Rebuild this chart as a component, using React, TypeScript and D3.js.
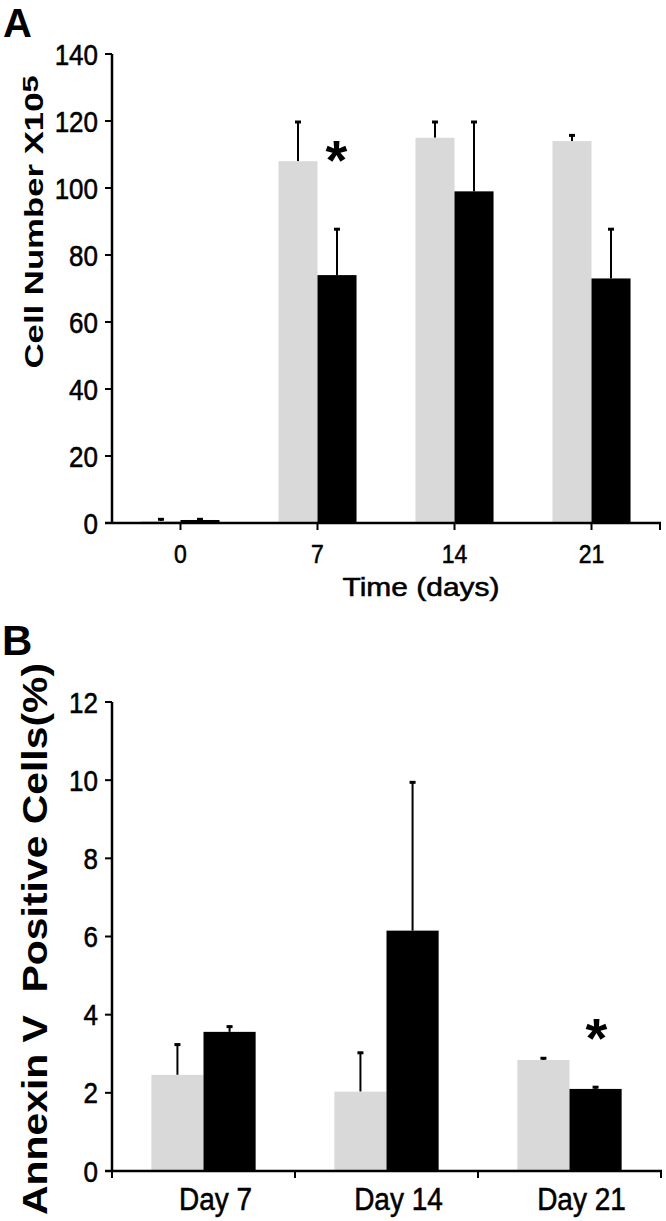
import React, { useEffect } from "react";
import * as d3 from "d3";

// ---------- Data ----------
const seriesNames = ["control", "treated"];
const seriesColors = ["#d9d9d9", "#000000"];

// Panel A: cell number (x10^5)
const daysA = ["0", "7", "14", "21"];
const cellMeanControl = [0.6, 108, 115, 114];
const cellErrControl = [1.4, 120, 120, 116];
const cellMeanTreated = [0.9, 74, 99, 73];
const cellErrTreated = [1.4, 88, 120, 88];
const ticksA = [0, 20, 40, 60, 80, 100, 120, 140];
const starA = "7";

// Panel B: Annexin V positive cells (%)
const daysB = ["Day 7", "Day 14", "Day 21"];
const annexMeanControl = [2.46, 2.03, 2.84];
const annexErrControl = [3.26, 3.05, 2.91];
const annexMeanTreated = [3.56, 6.15, 2.1];
const annexErrTreated = [3.72, 9.97, 2.17];
const ticksB = [0, 2, 4, 6, 8, 10, 12];
const starB = "Day 21";

const FONT = "'Liberation Sans', Arial, Helvetica, sans-serif";

type PanelProps = {
  cats: string[];
  means: number[][];
  errs: number[][];
  yDomain: [number, number];
  yRange: [number, number];
  xRange: [number, number];
};

function Bars({ cats, means, errs, yDomain, yRange, xRange }: PanelProps) {
  const x = d3.scaleBand<string>().domain(cats).range(xRange).paddingInner(0).paddingOuter(0);
  const x1 = d3.scaleBand<string>().domain(seriesNames).range([0, x.bandwidth()]).paddingInner(0).paddingOuter(0.755);
  const y = d3.scaleLinear().domain(yDomain).range(yRange);
  return (
    <g>
      {cats.map((c, i) =>
        seriesNames.map((s, j) => {
          const bx = (x(c) as number) + (x1(s) as number);
          const w = x1.bandwidth();
          const top = y(means[j][i]);
          const cx = bx + w / 2;
          return (
            <g key={c + s}>
              <line x1={cx} x2={cx} y1={top} y2={y(errs[j][i])} stroke="#000" strokeWidth={2} />
              <line x1={cx - 3} x2={cx + 3} y1={y(errs[j][i]) + 1} y2={y(errs[j][i]) + 1} stroke="#000" strokeWidth={3} />
              <rect x={bx} y={top} width={w} height={y(0) - top} fill={seriesColors[j]} />
            </g>
          );
        })
      )}
    </g>
  );
}

function Label({ x, y, size, anchor, sy, children, length }: any) {
  return (
    <text
      transform={`translate(${x},${y}) scale(1,${sy})`}
      textAnchor={anchor}
      fontSize={size}
      stroke="#000"
      strokeWidth={0.5}
      textLength={length}
      lengthAdjust={length ? "spacingAndGlyphs" : undefined}
    >
      {children}
    </text>
  );
}

export default function App() {
  useEffect(() => {
    document.body.style.margin = "0";
  }, []);

  const xA = d3.scaleBand<string>().domain(daysA).range([112, 660]);
  const yA = d3.scaleLinear().domain([0, 140]).range([523, 54]);
  const xB = d3.scaleBand<string>().domain(daysB).range([112, 661]);
  const yB = d3.scaleLinear().domain([0, 12]).range([1171, 702]);

  const pA: PanelProps = {
    cats: daysA,
    means: [cellMeanControl, cellMeanTreated],
    errs: [cellErrControl, cellErrTreated],
    yDomain: [0, 140],
    yRange: [523, 54],
    xRange: [112, 660],
  };
  const pB: PanelProps = {
    cats: daysB,
    means: [annexMeanControl, annexMeanTreated],
    errs: [annexErrControl, annexErrTreated],
    yDomain: [0, 12],
    yRange: [1171, 702],
    xRange: [112, 661],
  };

  const axisW = 2.5;

  const starAx = (xA(starA) as number) + xA.bandwidth() / 2 + 19;
  const starAy = yA(102.7);
  const starBx = (xB(starB) as number) + xB.bandwidth() / 2 + 27;
  const starBy = yB(2.92);

  return (
    <svg width={666} height={1221} style={{ display: "block", background: "#fff" }} fontFamily={FONT}>
      <rect x={0} y={0} width={666} height={1221} fill="#fff" />
      {/* ---------------- Panel A ---------------- */}
      <text x={3} y={37} fontSize={40} fontWeight="bold">A</text>
      <Bars {...pA} />
      <line x1={112} x2={112} y1={yA(140)} y2={yA(0)} stroke="#000" strokeWidth={axisW} />
      {ticksA.map((t) => (
        <g key={"ya" + t}>
          <line x1={105} x2={112} y1={yA(t)} y2={yA(t)} stroke="#000" strokeWidth={2} />
          <Label x={98} y={yA(t) + 10.5} size={26} anchor="end" sy={1.12}>{t}</Label>
        </g>
      ))}
      <line x1={105} x2={661} y1={yA(0)} y2={yA(0)} stroke="#000" strokeWidth={axisW} />
      {daysA.map((d) => {
        const cx = (xA(d) as number) + xA.bandwidth() / 2;
        return (
          <g key={"xa" + d}>
            <line x1={cx} x2={cx} y1={yA(0)} y2={yA(0) + 7} stroke="#000" strokeWidth={2} />
            <Label x={cx} y={563} size={23} anchor="middle" sy={1.1}>{d}</Label>
          </g>
        );
      })}
      <line x1={660} x2={660} y1={yA(0)} y2={yA(0) + 7} stroke="#000" strokeWidth={2} />
      <Label x={421} y={596} size={24} anchor="middle" sy={1.1} length={157}>Time (days)</Label>
      <text transform="translate(43,222) rotate(-90)" textAnchor="middle" fontSize={25} fontWeight="bold" textLength={293} lengthAdjust="spacingAndGlyphs">
        Cell Number X10<tspan fontSize={22} dy={-5}>5</tspan>
      </text>
      <text x={starAx} y={starAy} textAnchor="middle" fontSize={56} fontWeight="bold">*</text>

      {/* ---------------- Panel B ---------------- */}
      <text x={2} y={655} fontSize={42} fontWeight="bold">B</text>
      <Bars {...pB} />
      <line x1={112} x2={112} y1={yB(12)} y2={yB(0)} stroke="#000" strokeWidth={axisW} />
      {ticksB.map((t) => (
        <g key={"yb" + t}>
          <line x1={105} x2={112} y1={yB(t)} y2={yB(t)} stroke="#000" strokeWidth={2} />
          <Label x={98} y={yB(t) + 10.5} size={26} anchor="end" sy={1.12}>{t}</Label>
        </g>
      ))}
      <line x1={105} x2={662} y1={yB(0)} y2={yB(0)} stroke="#000" strokeWidth={axisW} />
      {[...daysB.map((d) => xB(d) as number), 661].map((ex, i) => (
        <line key={"xbt" + i} x1={ex} x2={ex} y1={yB(0)} y2={yB(0) + 7} stroke="#000" strokeWidth={2} />
      ))}
      {daysB.map((d) => (
        <Label key={"xbl" + d} x={(xB(d) as number) + xB.bandwidth() / 2 + 12} y={1210} size={28} anchor="middle" sy={1.1}>{d}</Label>
      ))}
      <text transform="translate(47,939) rotate(-90)" textAnchor="middle" fontSize={35} fontWeight="bold" textLength={552} lengthAdjust="spacingAndGlyphs" xmlSpace="preserve">
        Annexin V  Positive Cells(%)
      </text>
      <text x={starBx} y={starBy} textAnchor="middle" fontSize={56} fontWeight="bold">*</text>
    </svg>
  );
}
